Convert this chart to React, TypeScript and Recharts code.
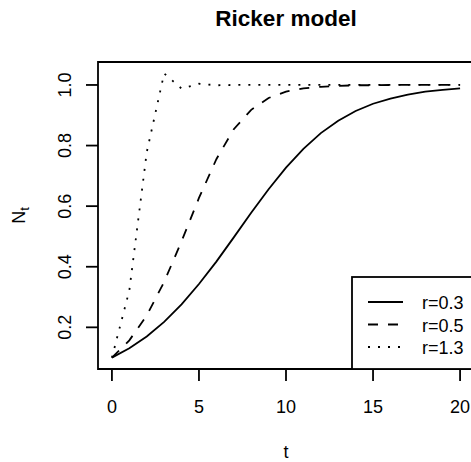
import React from "react";
import { LineChart, Line, XAxis, YAxis, ReferenceArea } from "recharts";

// ---- data ----
const tValues = [0, 1, 2, 3, 4, 5, 6, 7, 8, 9, 10, 11, 12, 13, 14, 15, 16, 17, 18, 19, 20];
const r03 = [0.1, 0.131, 0.17, 0.218, 0.276, 0.343, 0.417, 0.497, 0.578, 0.656, 0.727, 0.789, 0.841, 0.882, 0.914, 0.938, 0.955, 0.968, 0.978, 0.984, 0.989];
const r05 = [0.1, 0.157, 0.239, 0.35, 0.484, 0.627, 0.755, 0.854, 0.918, 0.957, 0.978, 0.989, 0.994, 0.997, 0.999, 0.999, 1.0, 1.0, 1.0, 1.0, 1.0];
const r13 = [0.1, 0.322, 0.778, 1.038, 0.988, 1.004, 0.999, 1.0, 1.0, 1.0, 1.0, 1.0, 1.0, 1.0, 1.0, 1.0, 1.0, 1.0, 1.0, 1.0, 1.0];
const seriesNames = ["r=0.3", "r=0.5", "r=1.3"];
const seriesKeys = ["r03", "r05", "r13"];
const xTicks = [0, 5, 10, 15, 20];
const yTicks = [0.2, 0.4, 0.6, 0.8, 1.0];
const title = "Ricker model";
const xLabel = "t";
const yLabelMain = "N";
const yLabelSub = "t";

const data = tValues.map((t, i) => ({ t, r03: r03[i], r05: r05[i], r13: r13[i] }));

// ---- styles ----
const FONT = "'Liberation Sans', Arial, Helvetica, sans-serif";
const LW = 1.8;
const dashes: Record<string, string | undefined> = { r03: undefined, r05: "10 10", r13: "2 8" };
const X_DOMAIN: [number, number] = [-0.8, 20.8];
const Y_DOMAIN: [number, number] = [0.0625, 1.0758];

const XTick = (props: any) => {
  const { x, y, payload } = props;
  return (
    <text x={x} y={y + 29.5} textAnchor="middle" fontSize={18} fontFamily={FONT} fill="#000">
      {String(payload.value)}
    </text>
  );
};

const YTick = (props: any) => {
  const { x, y, payload } = props;
  return (
    <text
      transform={`translate(${x - 13},${y}) rotate(-90)`}
      textAnchor="middle"
      fontSize={18}
      fontFamily={FONT}
      fill="#000"
    >
      {Number(payload.value).toFixed(1)}
    </text>
  );
};

const YLabel = (props: any) => {
  const vb = props.viewBox || { x: 0, y: 62, width: 98, height: 307 };
  const cy = vb.y + vb.height / 2;
  return (
    <text
      transform={`translate(25,${cy}) rotate(-90)`}
      textAnchor="middle"
      fontSize={18}
      fontFamily={FONT}
      fill="#000"
    >
      {yLabelMain}
      <tspan fontSize={13} dy={4}>{yLabelSub}</tspan>
    </text>
  );
};

const XLabel = (props: any) => {
  const vb = props.viewBox || { x: 98, y: 369, width: 376, height: 93 };
  return (
    <text x={vb.x + vb.width / 2} y={458} textAnchor="middle" fontSize={18} fontFamily={FONT} fill="#000">
      {xLabel}
    </text>
  );
};

export default function App() {
  return (
    <div style={{ position: "absolute", left: 0, top: 0, width: 471, height: 462, overflow: "hidden", background: "#fff" }}>
      <LineChart width={480} height={462} data={data} margin={{ top: 62, right: 6, bottom: 0, left: 0 }}>
        <XAxis
          dataKey="t"
          type="number"
          domain={X_DOMAIN}
          ticks={xTicks}
          allowDataOverflow
          axisLine={false}
          tickLine={{ stroke: "#000", strokeWidth: LW }}
          tickSize={12}
          tick={<XTick />}
          height={93}
          interval={0}
          label={<XLabel />}
        />
        <YAxis
          type="number"
          domain={Y_DOMAIN}
          ticks={yTicks}
          allowDataOverflow
          axisLine={false}
          tickLine={{ stroke: "#000", strokeWidth: LW }}
          tickSize={12}
          tick={<YTick />}
          width={98}
          interval={0}
          label={<YLabel />}
        />
        <ReferenceArea
          x1={X_DOMAIN[0]}
          x2={X_DOMAIN[1]}
          y1={Y_DOMAIN[0]}
          y2={Y_DOMAIN[1]}
          fill="none"
          fillOpacity={0}
          stroke="#000"
          strokeWidth={LW}
          ifOverflow="visible"
        />
        {seriesKeys.map((k, i) => (
          <Line
            key={k}
            dataKey={k}
            name={seriesNames[i]}
            type="linear"
            stroke="#000"
            strokeWidth={LW}
            strokeDasharray={dashes[k]}
            dot={false}
            activeDot={false}
            isAnimationActive={false}
          />
        ))}
      </LineChart>
      <svg width={480} height={462} style={{ position: "absolute", left: 0, top: 0, pointerEvents: "none" }}>
        <text x={286} y={26} textAnchor="middle" fontSize={22.5} fontWeight="bold" fontFamily={FONT} fill="#000">
          {title}
        </text>
        <rect x={352} y={277} width={122} height={92} fill="#fff" stroke="#000" strokeWidth={LW} />
        {seriesKeys.map((k, i) => (
          <g key={k}>
            <line x1={368} x2={403} y1={302 + i * 22.5} y2={302 + i * 22.5} stroke="#000" strokeWidth={LW} strokeDasharray={dashes[k]} />
            <text x={422} y={309 + i * 22.5} fontSize={18} fontFamily={FONT} fill="#000">
              {seriesNames[i]}
            </text>
          </g>
        ))}
      </svg>
    </div>
  );
}
